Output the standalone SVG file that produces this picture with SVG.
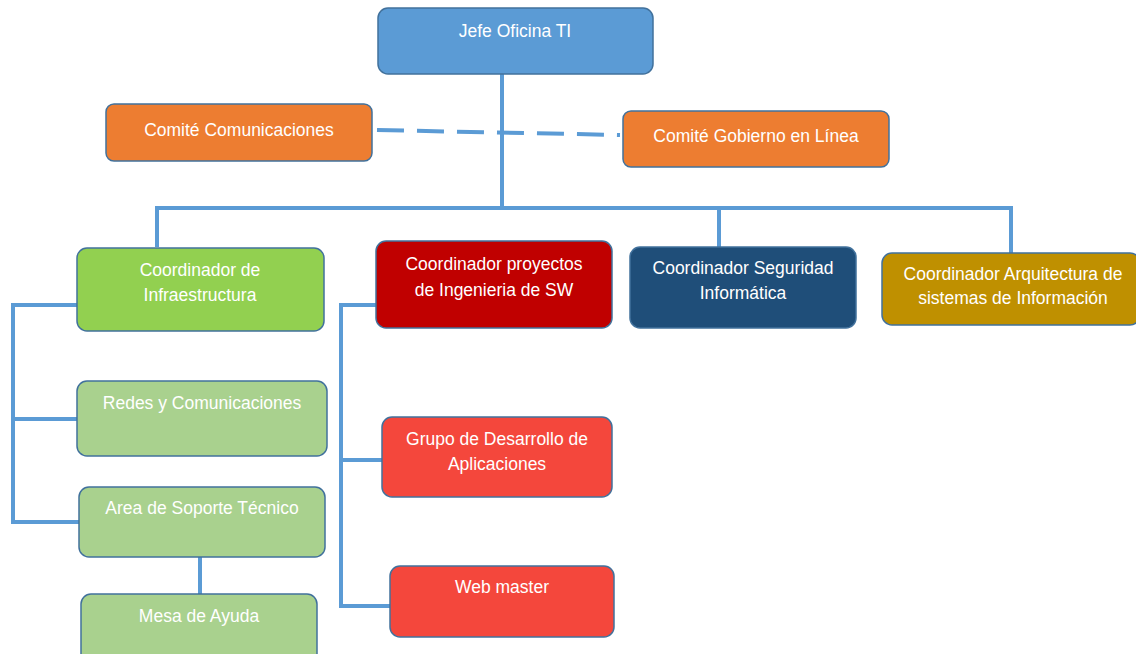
<svg xmlns="http://www.w3.org/2000/svg" width="1136" height="654" viewBox="0 0 1136 654">
<style>
.b{stroke:#41719C;stroke-width:1.5}
.t{font-family:"Liberation Sans",Arial,sans-serif;font-size:17.5px;fill:#FFFFFF;text-anchor:middle}
.c{fill:none;stroke:#5B9BD5;stroke-width:4}
</style>
<rect width="1136" height="654" fill="#FFFFFF"/>
<g id="connectors">
<path class="c" d="M502,74 V208 M157,247 V208 H1011 V253 M719,208 V247"/>
<path class="c" d="M377,130 L620,135" stroke-dasharray="27,13"/>
<path class="c" d="M77,305 H13 V522 H79 M13,419 H77"/>
<path class="c" d="M200,557 V594"/>
<path class="c" d="M376,305 H341 V606 H390 M341,460 H382"/>
</g>
<g id="jefe"><rect class="b" x="378" y="8" width="275" height="66" rx="10" fill="#5B9BD5"/><text class="t" x="515" y="37">Jefe Oficina TI</text></g>
<g id="comite-com"><rect class="b" x="106" y="104" width="266" height="57" rx="8" fill="#ED7D31"/><text class="t" x="239" y="136">Comité Comunicaciones</text></g>
<g id="comite-gob"><rect class="b" x="623" y="111" width="266" height="56" rx="8" fill="#ED7D31"/><text class="t" x="756" y="142">Comité Gobierno en Línea</text></g>
<g id="coord-infra"><rect class="b" x="77" y="248" width="247" height="83" rx="10" fill="#92D050"/><text class="t" x="200" y="276">Coordinador de</text><text class="t" x="200" y="301">Infraestructura</text></g>
<g id="coord-sw"><rect class="b" x="376" y="241" width="236" height="87" rx="10" fill="#C00000"/><text class="t" x="494" y="270">Coordinador proyectos</text><text class="t" x="494" y="296">de Ingenieria de SW</text></g>
<g id="coord-seg"><rect class="b" x="630" y="247" width="226" height="81" rx="10" fill="#1F4E79"/><text class="t" x="743" y="274">Coordinador Seguridad</text><text class="t" x="743" y="299">Informática</text></g>
<g id="coord-arq"><rect class="b" x="882" y="253" width="258" height="72" rx="10" fill="#BF9000"/><text class="t" x="1013" y="280">Coordinador Arquitectura de</text><text class="t" x="1013" y="304">sistemas de Información</text></g>
<g id="redes"><rect class="b" x="77" y="381" width="250" height="75" rx="10" fill="#A9D18E"/><text class="t" x="202" y="409">Redes y Comunicaciones</text></g>
<g id="soporte"><rect class="b" x="79" y="487" width="246" height="70" rx="10" fill="#A9D18E"/><text class="t" x="202" y="514">Area de Soporte Técnico</text></g>
<g id="mesa"><rect class="b" x="81" y="594" width="236" height="70" rx="10" fill="#A9D18E"/><text class="t" x="199" y="622">Mesa de Ayuda</text></g>
<g id="grupo"><rect class="b" x="382" y="417" width="230" height="80" rx="10" fill="#F4473C"/><text class="t" x="497" y="445">Grupo de Desarrollo de</text><text class="t" x="497" y="470">Aplicaciones</text></g>
<g id="web"><rect class="b" x="390" y="566" width="224" height="71" rx="10" fill="#F4473C"/><text class="t" x="502" y="593">Web master</text></g>
</svg>
